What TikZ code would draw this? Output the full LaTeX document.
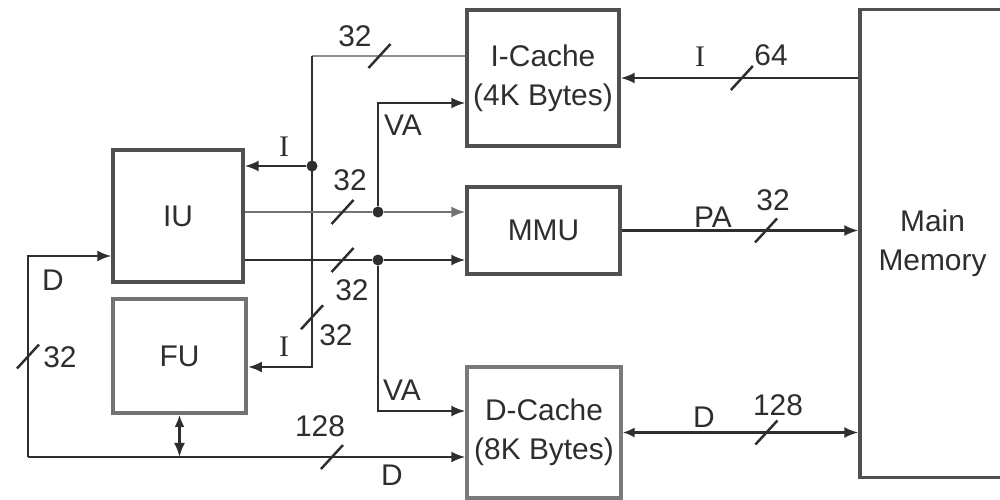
\documentclass[tikz,border=0pt]{standalone}
\usepackage{fontspec}
\setmainfont{Liberation Sans}
\newfontfamily\serifI{Liberation Serif}
\usetikzlibrary{arrows.meta,calc}
\definecolor{cpInk}{HTML}{2E2E2E}
\definecolor{cpBox}{HTML}{505050}
\definecolor{cpGray}{HTML}{8E8E8E}
\tikzset{
  % Unit box (gray frame)
  ubox/.style={rectangle,draw=cpBox,line width=0.9pt,inner sep=0pt,
    align=center,font=\fontsize{8.5}{11}\selectfont,text=cpInk},
  % Wires and arrows
  wire/.style={line width=0.7pt,color=cpInk},
  arr/.style={wire,-{Latex[length=1.4mm,width=1.1mm]}},
  arrb/.style={wire,{Latex[length=1.2mm,width=1mm]}-{Latex[length=1.4mm,width=1.1mm]}},
  % Bus labels
  lbl/.style={font=\fontsize{8.5}{10}\selectfont,text=cpInk,inner sep=1pt},
  % Junction dot
  jdot/.style={circle,fill=cpInk,inner sep=0pt,minimum size=1.1mm},
  % Bus width tick
  bw/.pic={\draw[wire] (-11,12) -- (11,-12);},
}
\begin{document}
\begin{tikzpicture}[x=0.01cm,y=-0.01cm]
  \useasboundingbox (0,0) rectangle (1000,500);

  % Processor units (left)
  \node[ubox,minimum width=1.30cm,minimum height=1.32cm] (iu) at (178,216) {IU};
  \node[ubox,draw=cpGray!80!black,line width=1.1pt,minimum width=1.33cm,minimum height=1.14cm] (fu) at (179.5,356) {FU};

  % Caches and MMU (middle)
  \node[ubox,minimum width=1.52cm,minimum height=1.36cm] (icache) at (543,78)
    {I-Cache\\(4K Bytes)};
  \node[ubox,minimum width=1.53cm,minimum height=0.87cm] (mmu) at (543.5,230.5) {MMU};
  \node[ubox,draw=cpGray!85!black,minimum width=1.54cm,minimum height=1.31cm] (dcache) at (544,432.5)
    {D-Cache\\(8K Bytes)};

  % Main memory (right)
  \node[ubox,minimum width=1.45cm,minimum height=4.67cm] (mem) at (932.5,243.5)
    {Main\\Memory};

  % Bends and junctions
  \coordinate (itop) at (312,56);
  \coordinate (ibot) at (312,367);
  \node[jdot] (ij) at (312,166) {};
  \node[jdot] (va1) at (378,212) {};
  \node[jdot] (va2) at (378,260) {};
  \coordinate (dbot) at (28,457);
  \coordinate (dtop) at (28,256);

  % Instruction bus
  \draw[wire,color=cpGray] (icache.west |- itop) -- coordinate[pos=0.56] (w1) (itop);
  \draw[arr] (itop) -- coordinate[pos=0.84] (w2) (ibot) -- (fu.east |- ibot);
  \draw[arr] (ij) -- (iu.east |- ij);

  % Virtual addresses
  \draw[arr,color=cpGray!80!black] (iu.east |- va1) -- coordinate[pos=0.77] (w3) (va1) -- (mmu.west |- va1);
  \draw[arr] (iu.east |- va2) -- coordinate[pos=0.77] (w4) (va2) -- (mmu.west |- va2);
  \draw[arr] (va1) |- ($(icache.west)+(0,25)$);
  \draw[arr] (va2) |- ($(dcache.west)+(0,-21.5)$);

  % Data bus
  \draw[arr] (dbot) -- coordinate[pos=0.695] (w5) (dcache.west |- dbot);
  \draw[arr] (dbot) -- coordinate[pos=0.5] (w6) (dtop) -- (iu.west |- dtop);
  \draw[arrb] (fu.south) -- (fu.south |- dbot);

  % Memory side
  \draw[arr] (mem.west |- icache.east) -- coordinate[pos=0.49] (w7) (icache.east);
  \draw[arr] (mmu.east) -- coordinate[pos=0.61] (w8) (mem.west |- mmu.east);
  \draw[arrb] (dcache.east) -- coordinate[pos=0.61] (w9) (mem.west |- dcache.east);

  \foreach \w in {1,...,9} \pic at (w\w) {bw};

  % Labels
  \node[lbl] (l1) at (355,36) {32};
  \node[lbl] (l2) at (284,147) {\serifI I};
  \node[lbl] (l3) at (350,180) {32};
  \node[lbl] (l4) at (403,125) {VA};
  \node[lbl] (l5) at (352,290) {32};
  \node[lbl] (l6) at (284,347) {\serifI I};
  \node[lbl] (l7) at (336,335) {32};
  \node[lbl] (l8) at (402,390) {VA};
  \node[lbl] (l9) at (320,426) {128};
  \node[lbl] (l10) at (392,475) {D};
  \node[lbl] (l11) at (53,280) {D};
  \node[lbl] (l12) at (60,357) {32};
  \node[lbl] (l13) at (700,57) {\serifI I};
  \node[lbl] (l14) at (771,55) {64};
  \node[lbl] (l15) at (713,217) {PA};
  \node[lbl] (l16) at (773,200) {32};
  \node[lbl] (l17) at (704,417) {D};
  \node[lbl] (l18) at (778,405) {128};
\end{tikzpicture}
\end{document}
